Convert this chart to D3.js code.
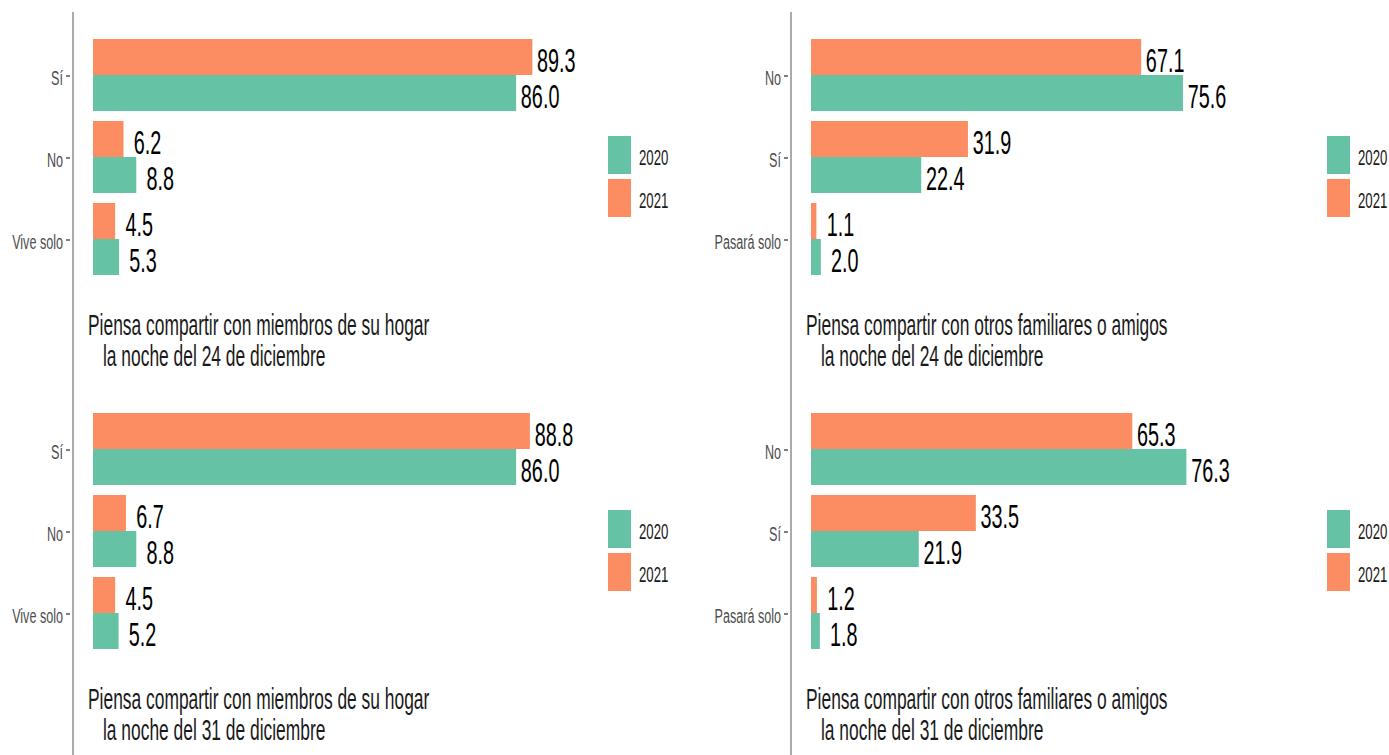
<!DOCTYPE html>
<meta charset="utf-8">
<style>
    body { margin: 0; background: #fff; }
    svg { display: block; }
    text { font-family: "Liberation Sans", Arial, sans-serif; }
    .axis-line { stroke: #ababab; stroke-width: 2px; }
    .tick-mark { stroke: #555; stroke-width: 1.5px; }
</style>
<svg width="1389" height="755"></svg>
<script src="https://d3js.org/d3.v7.min.js"></script>
<script>

    // data
    var years = ["2021", "2020"];
    var yearColors = { "2020": "#66c2a5", "2021": "#fc8d62" };
    var legendYears = ["2020", "2021"];

    var hogarCats = ["Sí", "No", "Vive solo"];
    var hogar24_2021 = [89.3, 6.2, 4.5];
    var hogar24_2020 = [86.0, 8.8, 5.3];
    var hogar31_2021 = [88.8, 6.7, 4.5];
    var hogar31_2020 = [86.0, 8.8, 5.2];

    var otrosCats = ["No", "Sí", "Pasará solo"];
    var otros24_2021 = [67.1, 31.9, 1.1];
    var otros24_2020 = [75.6, 22.4, 2.0];
    var otros31_2021 = [65.3, 33.5, 1.2];
    var otros31_2020 = [76.3, 21.9, 1.8];

    var captionHogar24 = ["Piensa compartir con miembros de su hogar", "la noche del 24 de diciembre"];
    var captionOtros24 = ["Piensa compartir con otros familiares o amigos", "la noche del 24 de diciembre"];
    var captionHogar31 = ["Piensa compartir con miembros de su hogar", "la noche del 31 de diciembre"];
    var captionOtros31 = ["Piensa compartir con otros familiares o amigos", "la noche del 31 de diciembre"];

    // the source picture is squeezed sideways, so every text is too
    var SX = 0.6;

    var panels = [
        { cats: hogarCats, v2021: hogar24_2021, v2020: hogar24_2020, caption: captionHogar24, axisX: 73, left: 93, top: 39, legendX: 608 },
        { cats: otrosCats, v2021: otros24_2021, v2020: otros24_2020, caption: captionOtros24, axisX: 791, left: 811, top: 39, legendX: 1327 },
        { cats: hogarCats, v2021: hogar31_2021, v2020: hogar31_2020, caption: captionHogar31, axisX: 73, left: 93, top: 413, legendX: 608 },
        { cats: otrosCats, v2021: otros31_2021, v2020: otros31_2020, caption: captionOtros31, axisX: 791, left: 811, top: 413, legendX: 1327 }
    ];

    var svg = d3.select("svg");

    svg.append("rect")
        .attr("width", 1389)
        .attr("height", 755)
        .attr("fill", "#fff");

    function place(x, y) {
        return "translate(" + x + "," + y + ") scale(" + SX + ",1)";
    }

    // vertical axis lines run the full height of each column
    [73, 791].forEach(function (ax) {
        svg.append("line")
            .attr("class", "axis-line")
            .attr("x1", ax).attr("x2", ax)
            .attr("y1", 12).attr("y2", 755);
    });

    panels.forEach(function (p) {

        var rows = p.cats.map(function (c, i) {
            return { cat: c, "2021": p.v2021[i], "2020": p.v2020[i] };
        });

        var x = d3.scaleLinear().domain([0, 100]).range([p.left, p.left + 492]);

        var y = d3.scaleBand()
            .domain(p.cats)
            .range([p.top, p.top + 236])
            .paddingInner(10 / 82)
            .paddingOuter(0);

        var y1 = d3.scaleBand()
            .domain(years)
            .range([0, y.bandwidth()]);

        var g = svg.append("g");

        // ticks and tick labels
        var ticks = g.selectAll(".tick")
            .data(p.cats)
            .enter().append("g")
            .attr("class", "tick");

        ticks.append("line")
            .attr("class", "tick-mark")
            .attr("x1", p.axisX - 7)
            .attr("x2", p.axisX - 3)
            .attr("y1", function (d) { return y(d) + y.bandwidth() / 2 + 1; })
            .attr("y2", function (d) { return y(d) + y.bandwidth() / 2 + 1; });

        ticks.append("text")
            .attr("transform", function (d) { return place(p.axisX - 10, y(d) + y.bandwidth() / 2 + 2); })
            .attr("text-anchor", "end")
            .attr("dy", "0.36em")
            .style("font-size", "21px")
            .style("fill", "#4d4d4d")
            .text(function (d) { return d; });

        // bars
        var group = g.selectAll(".grp")
            .data(rows)
            .enter().append("g")
            .attr("class", "grp")
            .attr("transform", function (d) { return "translate(0," + y(d.cat) + ")"; });

        var cells = group.selectAll(".cell")
            .data(function (d) {
                return years.map(function (yr) { return { year: yr, value: d[yr] }; });
            })
            .enter().append("g")
            .attr("class", "cell");

        cells.append("rect")
            .attr("x", x(0))
            .attr("y", function (d) { return y1(d.year); })
            .attr("width", function (d) { return x(d.value) - x(0); })
            .attr("height", y1.bandwidth())
            .attr("fill", function (d) { return yearColors[d.year]; });

        cells.append("text")
            .attr("transform", function (d) { return place(x(d.value) + 24, y1(d.year) + y1.bandwidth() / 2 + 3); })
            .attr("text-anchor", "middle")
            .attr("dy", "0.36em")
            .style("font-size", "33px")
            .style("fill", "#000")
            .text(function (d) { return d3.format(".1f")(d.value); });

        // legend
        var legendTop = p.top + 97;
        var leg = g.selectAll(".leg")
            .data(legendYears)
            .enter().append("g")
            .attr("class", "leg");

        leg.append("rect")
            .attr("x", p.legendX)
            .attr("y", function (d, i) { return legendTop + i * 43; })
            .attr("width", 23)
            .attr("height", 38)
            .attr("fill", function (d) { return yearColors[d]; });

        leg.append("text")
            .attr("transform", function (d, i) { return place(p.legendX + 31, legendTop + i * 43 + 21); })
            .attr("dy", "0.36em")
            .style("font-size", "22px")
            .style("fill", "#1a1a1a")
            .text(function (d) { return d; });

        // caption under the bars
        g.append("text")
            .attr("transform", place(p.axisX + 15, p.top + 296))
            .style("font-size", "29px")
            .style("fill", "#1a1a1a")
            .text(p.caption[0]);

        g.append("text")
            .attr("transform", place(p.axisX + 30, p.top + 327))
            .style("font-size", "29px")
            .style("fill", "#1a1a1a")
            .text(p.caption[1]);
    });

</script>
